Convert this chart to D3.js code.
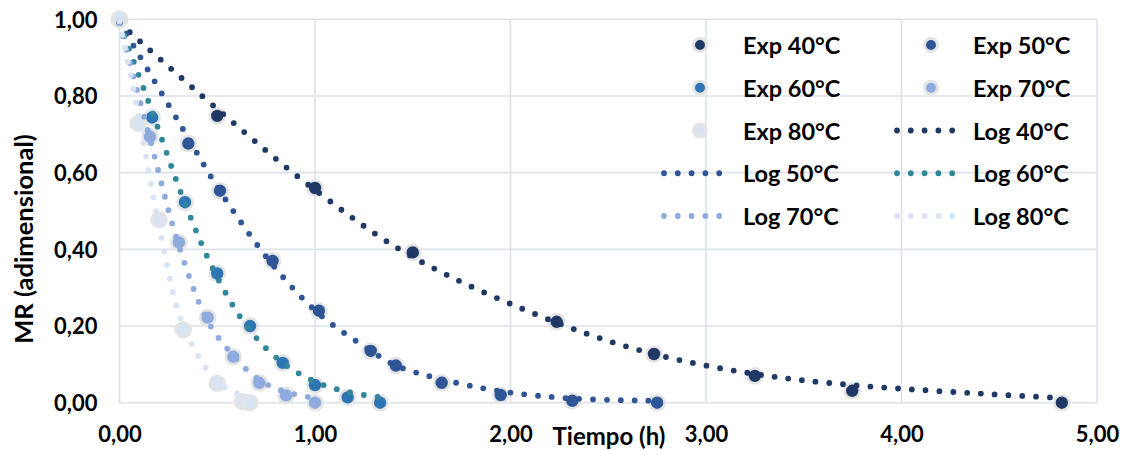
<!DOCTYPE html>
<html>
<head>
<meta charset="utf-8">
<script src="https://cdn.jsdelivr.net/npm/d3@7"></script>
<style>
  body { margin: 0; background: #ffffff; }
  text { font-family: Lato, "Open Sans", sans-serif; font-weight: bold; fill: #000; }
</style>
</head>
<body>
<div id="chart"></div>
<script>
// Chart Data
const temps = ["40", "50", "60", "70", "80"];

// Experimental Points: [tiempo (h), MR]
const exp40 = [[0, 1], [0.5, 0.748], [1.0, 0.56], [1.5, 0.392], [2.236, 0.211], [2.734, 0.127], [3.25, 0.07], [3.748, 0.031], [4.82, 0]];
const exp50 = [[0, 1], [0.352, 0.676], [0.514, 0.553], [0.783, 0.37], [1.02, 0.24], [1.285, 0.135], [1.414, 0.097], [1.648, 0.052], [1.95, 0.02], [2.316, 0.005], [2.75, 0]];
const exp60 = [[0, 1], [0.167, 0.744], [0.335, 0.523], [0.5, 0.337], [0.668, 0.2], [0.835, 0.104], [1.0, 0.046], [1.167, 0.014], [1.333, 0]];
const exp70 = [[0, 1], [0.156, 0.694], [0.304, 0.418], [0.451, 0.222], [0.582, 0.12], [0.715, 0.052], [0.852, 0.019], [1.0, 0]];
const exp80 = [[0, 1], [0.096, 0.729], [0.202, 0.477], [0.326, 0.19], [0.5, 0.05], [0.63, 0.003], [0.667, 0]];

// Logarithmic Model Points: [tiempo (h), MR]
const log40 = [[0, 0.99], [0.5, 0.766], [1.0, 0.555], [1.5, 0.38], [2.236, 0.209], [2.734, 0.127], [3.25, 0.075], [3.748, 0.046], [4.82, 0.012]];
const log50 = [[0, 0.993], [0.352, 0.69], [0.514, 0.552], [0.783, 0.36], [1.02, 0.232], [1.285, 0.136], [1.414, 0.097], [1.648, 0.061], [1.95, 0.03], [2.316, 0.011], [2.75, 0.005]];
const log60 = [[0, 0.99], [0.167, 0.759], [0.335, 0.52], [0.5, 0.327], [0.668, 0.188], [0.835, 0.104], [1.0, 0.055], [1.167, 0.028], [1.333, 0.014]];
const log70 = [[0, 0.99], [0.156, 0.688], [0.304, 0.409], [0.451, 0.213], [0.582, 0.123], [0.715, 0.059], [0.852, 0.028], [1.0, 0.012]];
const log80 = [[0, 0.995], [0.096, 0.753], [0.202, 0.463], [0.326, 0.201], [0.5, 0.055], [0.63, 0.018], [0.667, 0.012]];

// Axis Ticks
const xTicks = [0, 1, 2, 3, 4, 5];
const yTicks = [0, 0.2, 0.4, 0.6, 0.8, 1.0];

// Series Colours
const expColors = ["#203864", "#2F5597", "#2E75B6", "#8FAADC", "#DAE3F3"];
const logColors = ["#1F3864", "#2F5597", "#2F8799", "#8FAADC", "#DAE3F3"];

const expSeries = [exp40, exp50, exp60, exp70, exp80];
const logSeries = [log40, log50, log60, log70, log80];

// Define the Size of the SVG Container
const width = 1128;
const height = 450;

// Create the SVG Container
const svg = d3.select("#chart")
  .append("svg")
  .attr("width", width)
  .attr("height", height);

// Define X and Y Scales
const xScale = d3.scaleLinear()
  .domain([0, 5])
  .range([119.5, 1097]);

const yScale = d3.scaleLinear()
  .domain([0, 1])
  .range([402.7, 19.3]);

const fmt = d => d3.format(".2f")(d).replace(".", ",");

// Gridlines
svg.append("g")
  .selectAll("line")
  .data(yTicks)
  .enter()
  .append("line")
  .attr("x1", xScale(0))
  .attr("x2", xScale(5))
  .attr("y1", d => yScale(d))
  .attr("y2", d => yScale(d))
  .attr("stroke", "#dde2ea")
  .attr("stroke-width", 1.6);

svg.append("g")
  .selectAll("line")
  .data(xTicks)
  .enter()
  .append("line")
  .attr("x1", d => xScale(d))
  .attr("x2", d => xScale(d))
  .attr("y1", yScale(0))
  .attr("y2", yScale(1))
  .attr("stroke", "#dde2ea")
  .attr("stroke-width", 1.6);

// Axes (labels only, lines come from the grid)
const xAxis = svg.append("g")
  .attr("transform", "translate(0," + yScale(0) + ")")
  .call(d3.axisBottom(xScale).tickValues(xTicks).tickFormat(fmt).tickSize(0).tickPadding(0));
xAxis.select(".domain").remove();
xAxis.selectAll("text")
  .attr("y", 39)
  .attr("dy", 0)
  .attr("font-size", 22);

const yAxis = svg.append("g")
  .attr("transform", "translate(" + xScale(0) + ",0)")
  .call(d3.axisLeft(yScale).tickValues(yTicks).tickFormat(fmt).tickSize(0).tickPadding(0));
yAxis.select(".domain").remove();
yAxis.selectAll("text")
  .attr("x", -22)
  .attr("dy", "0.35em")
  .attr("font-size", 22);

// Axis Titles
svg.append("text")
  .attr("x", 609)
  .attr("y", 445)
  .attr("text-anchor", "middle")
  .attr("font-size", 24)
  .text("Tiempo (h)");

svg.append("text")
  .attr("transform", "translate(33,239) rotate(-90)")
  .attr("text-anchor", "middle")
  .attr("font-size", 25.5)
  .text("MR (adimensional)");

// Experimental Markers
expSeries.forEach(function(series, i) {
  svg.append("g")
    .selectAll("circle")
    .data(series)
    .enter()
    .append("circle")
    .attr("cx", d => xScale(d[0]))
    .attr("cy", d => yScale(d[1]))
    .attr("r", 7.5)
    .attr("fill", expColors[i])
    .attr("stroke", "#e4e4e4")
    .attr("stroke-width", 2.6);
});

// Logarithmic Model Curves (round dotted)
const line = d3.line()
  .x(d => xScale(d[0]))
  .y(d => yScale(d[1]))
  .curve(d3.curveCatmullRom.alpha(0.5));

logSeries.forEach(function(series, i) {
  svg.append("path")
    .datum(series)
    .attr("d", line)
    .attr("fill", "none")
    .attr("stroke", logColors[i])
    .attr("stroke-width", 5.8)
    .attr("stroke-linecap", "round")
    .attr("stroke-dasharray", "0 13.8");
});

// Legend
const legendItems = [];
temps.forEach((t, i) => legendItems.push({ label: "Exp " + t + "°C", type: "exp", color: expColors[i] }));
temps.forEach((t, i) => legendItems.push({ label: "Log " + t + "°C", type: "log", color: logColors[i] }));

const colLineStart = [664, 897];
const colMarker = [700, 931];
const colText = [743, 973];

const legend = svg.append("g");
legendItems.forEach(function(item, k) {
  const col = k % 2;
  const row = Math.floor(k / 2);
  const cy = 45 + row * 42.75;
  const g = legend.append("g");

  if (item.type === "exp") {
    g.append("circle")
      .attr("cx", colMarker[col])
      .attr("cy", cy)
      .attr("r", 6.5)
      .attr("fill", item.color)
      .attr("stroke", "#e4e4e4")
      .attr("stroke-width", 3);
  } else {
    g.append("line")
      .attr("x1", colLineStart[col])
      .attr("x2", colLineStart[col] + 56)
      .attr("y1", cy)
      .attr("y2", cy)
      .attr("stroke", item.color)
      .attr("stroke-width", 5.8)
      .attr("stroke-linecap", "round")
      .attr("stroke-dasharray", "0 13.8");
  }

  g.append("text")
    .attr("x", colText[col])
    .attr("y", cy + 9)
    .attr("font-size", 23.5)
    .text(item.label);
});
</script>
</body>
</html>
